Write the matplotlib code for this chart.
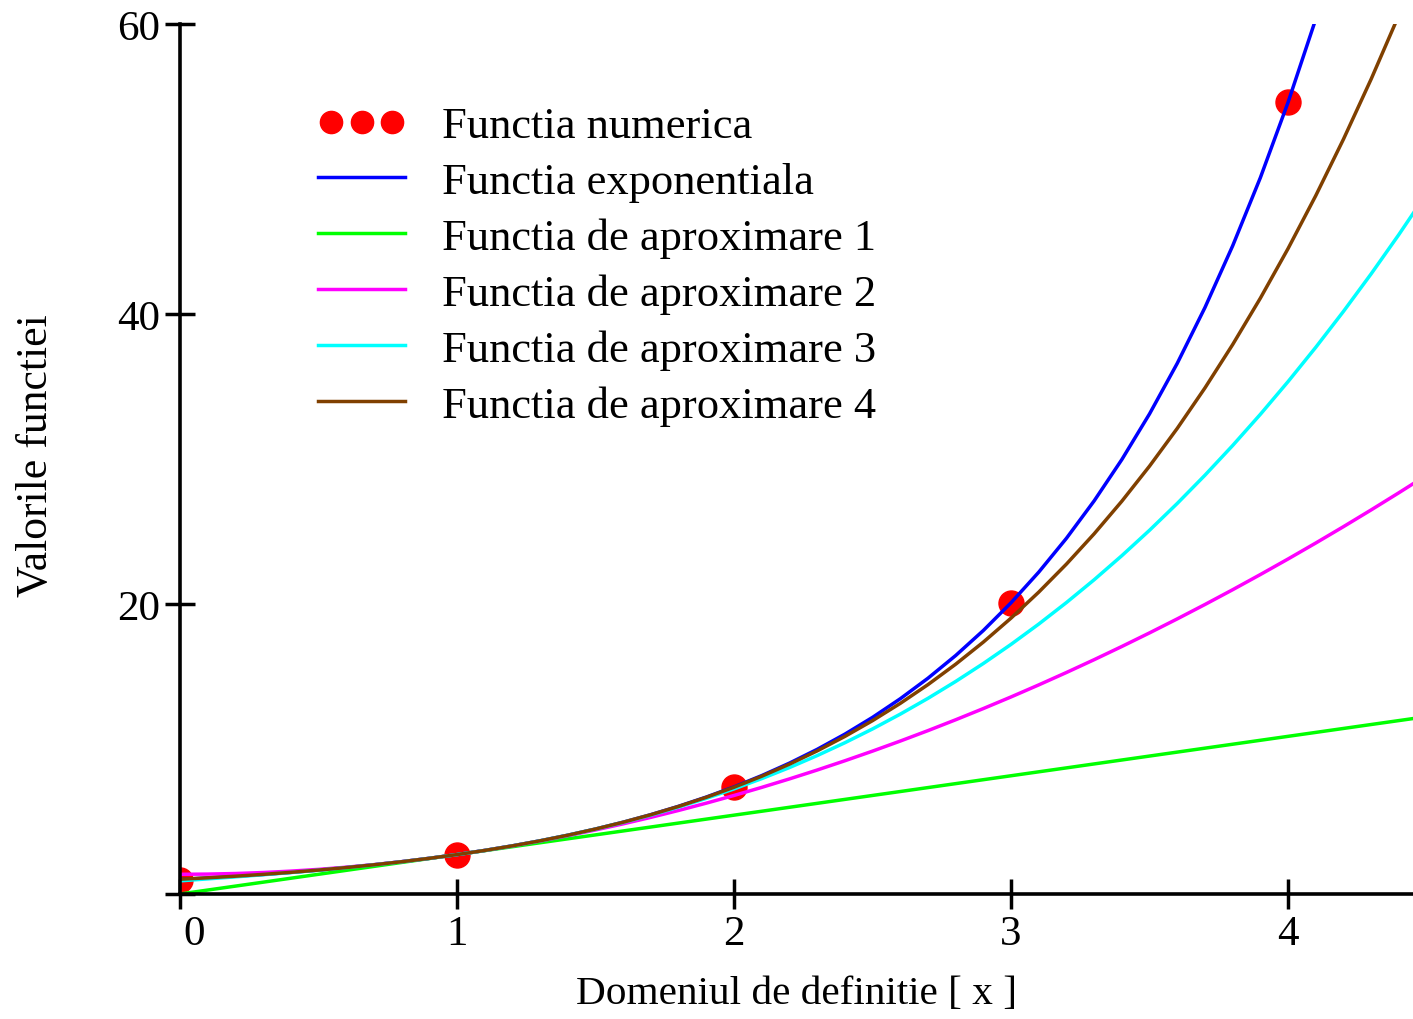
import matplotlib
matplotlib.use("Agg")
import matplotlib.pyplot as plt
from matplotlib.legend_handler import HandlerLine2D
from matplotlib.transforms import ScaledTranslation

plt.rcParams['font.family'] = ['Liberation Serif', 'DejaVu Serif']

# ---- data ----
x_points = [0, 1, 2, 3, 4]
y_points = [1.0, 2.718, 7.389, 20.086, 54.598]

x_grid = [0.0, 0.1, 0.2, 0.3, 0.4, 0.5, 0.6, 0.7, 0.8, 0.9,
          1.0, 1.1, 1.2, 1.3, 1.4, 1.5, 1.6, 1.7, 1.8, 1.9,
          2.0, 2.1, 2.2, 2.3, 2.4, 2.5, 2.6, 2.7, 2.8, 2.9,
          3.0, 3.1, 3.2, 3.3, 3.4, 3.5, 3.6, 3.7, 3.8, 3.9,
          4.0, 4.1, 4.2, 4.3, 4.4, 4.5]

y_exp = [1.000, 1.105, 1.221, 1.350, 1.492, 1.649, 1.822, 2.014, 2.226, 2.460,
         2.718, 3.004, 3.320, 3.669, 4.055, 4.482, 4.953, 5.474, 6.050, 6.686,
         7.389, 8.166, 9.025, 9.974, 11.023, 12.182, 13.464, 14.880, 16.445, 18.174,
         20.086, 22.198, 24.533, 27.113, 29.964, 33.115, 36.598, 40.447, 44.701, 49.402,
         54.598, 60.340, 66.686, 73.700, 81.451, 90.017]

y_apr1 = [0.000, 0.272, 0.544, 0.815, 1.087, 1.359, 1.631, 1.903, 2.175, 2.446,
          2.718, 2.990, 3.262, 3.534, 3.806, 4.077, 4.349, 4.621, 4.893, 5.165,
          5.437, 5.708, 5.980, 6.252, 6.524, 6.796, 7.067, 7.339, 7.611, 7.883,
          8.155, 8.427, 8.698, 8.970, 9.242, 9.514, 9.786, 10.058, 10.329, 10.601,
          10.873, 11.145, 11.417, 11.689, 11.960, 12.232]

y_apr2 = [1.359, 1.373, 1.413, 1.481, 1.577, 1.699, 1.848, 2.025, 2.229, 2.460,
          2.718, 3.004, 3.316, 3.656, 4.023, 4.417, 4.839, 5.287, 5.763, 6.266,
          6.796, 7.353, 7.937, 8.549, 9.188, 9.854, 10.547, 11.267, 12.015, 12.790,
          13.591, 14.421, 15.277, 16.160, 17.071, 18.009, 18.974, 19.966, 20.985, 22.032,
          23.105, 24.206, 25.334, 26.490, 27.672, 28.882]

y_apr3 = [0.906, 1.042, 1.182, 1.326, 1.479, 1.642, 1.819, 2.013, 2.225, 2.460,
          2.718, 3.004, 3.320, 3.668, 4.052, 4.474, 4.936, 5.442, 5.995, 6.596,
          7.249, 7.956, 8.720, 9.544, 10.431, 11.383, 12.403, 13.493, 14.657, 15.897,
          17.216, 18.616, 20.101, 21.672, 23.334, 25.087, 26.936, 28.883, 30.930, 33.081,
          35.338, 37.703, 40.180, 42.771, 45.479, 48.306]

y_apr4 = [1.019, 1.117, 1.228, 1.353, 1.493, 1.649, 1.822, 2.014, 2.226, 2.460,
          2.718, 3.004, 3.320, 3.669, 4.055, 4.481, 4.951, 5.470, 6.041, 6.670,
          7.362, 8.122, 8.955, 9.868, 10.866, 11.956, 13.145, 14.439, 15.846, 17.373,
          19.028, 20.819, 22.754, 24.842, 27.091, 29.512, 32.112, 34.902, 37.892, 41.092,
          44.512, 48.163, 52.056, 56.203, 60.614, 65.302]

labels = ["Functia numerica", "Functia exponentiala", "Functia de aproximare 1",
          "Functia de aproximare 2", "Functia de aproximare 3", "Functia de aproximare 4"]
x_ticks = [0, 1, 2, 3, 4]
x_ticklabels = ["0", "1", "2", "3", "4"]
y_ticks = [0, 20, 40, 60]
y_ticklabels = ["", "20", "40", "60"]

W, H = 1413, 1020
fig = plt.figure(figsize=(W / 100, H / 100), dpi=100)
ax = fig.add_axes([180 / W, 1 - 895 / H, (W - 180) / W, (895 - 25) / H])

lw = 2.5
pts, = ax.plot(x_points, y_points, linestyle='none', marker='o', markersize=18,
               color='#ff0000', label=labels[0], zorder=2)
lines = []
for yv, col, lab in [(y_exp, '#0000ff', labels[1]), (y_apr1, '#00ff00', labels[2]),
                     (y_apr2, '#ff00ff', labels[3]), (y_apr3, '#00ffff', labels[4]),
                     (y_apr4, '#804000', labels[5])]:
    ln, = ax.plot(x_grid, yv, color=col, lw=lw, label=lab, zorder=3)
    lines.append(ln)

ax.set_xlim(0, 4.451)
ax.set_ylim(0, 60)
for s in ['top', 'right']:
    ax.spines[s].set_visible(False)
for s in ['left', 'bottom']:
    ax.spines[s].set_linewidth(2.6)
    ax.spines[s].set_zorder(5)

ax.set_xticks(x_ticks)
ax.set_xticklabels(x_ticklabels)
ax.set_yticks(y_ticks)
ax.set_yticklabels(y_ticklabels)
ax.tick_params(direction='inout', length=21, width=2.5, labelsize=31, pad=4, color='black')
lab0 = ax.get_xticklabels()[0]
lab0.set_horizontalalignment('left')
lab0.set_transform(lab0.get_transform() + ScaledTranslation(3 / 100, 0, fig.dpi_scale_trans))

fig.text(36 / W, 1 - 456 / H, "Valorile functiei", rotation=90, ha='center', va='center', fontsize=31.5)
fig.text(797 / W, 1 - 995 / H, "Domeniul de definitie [ x ]", ha='center', va='center', fontsize=29.7)

hmap = {ln: HandlerLine2D(numpoints=1) for ln in lines}
leg = ax.legend(loc='upper left', bbox_to_anchor=(318 / W, 1 - 107 / H),
                bbox_transform=fig.transFigure, frameon=False, numpoints=3,
                fontsize=32, handlelength=1.96, handletextpad=0.83,
                labelspacing=0.35, borderpad=0, borderaxespad=0, handler_map=hmap)
for h in leg.legend_handles:
    if h.get_marker() == 'o':
        h.set_markersize(16)

fig.savefig("out.png", dpi=100)
